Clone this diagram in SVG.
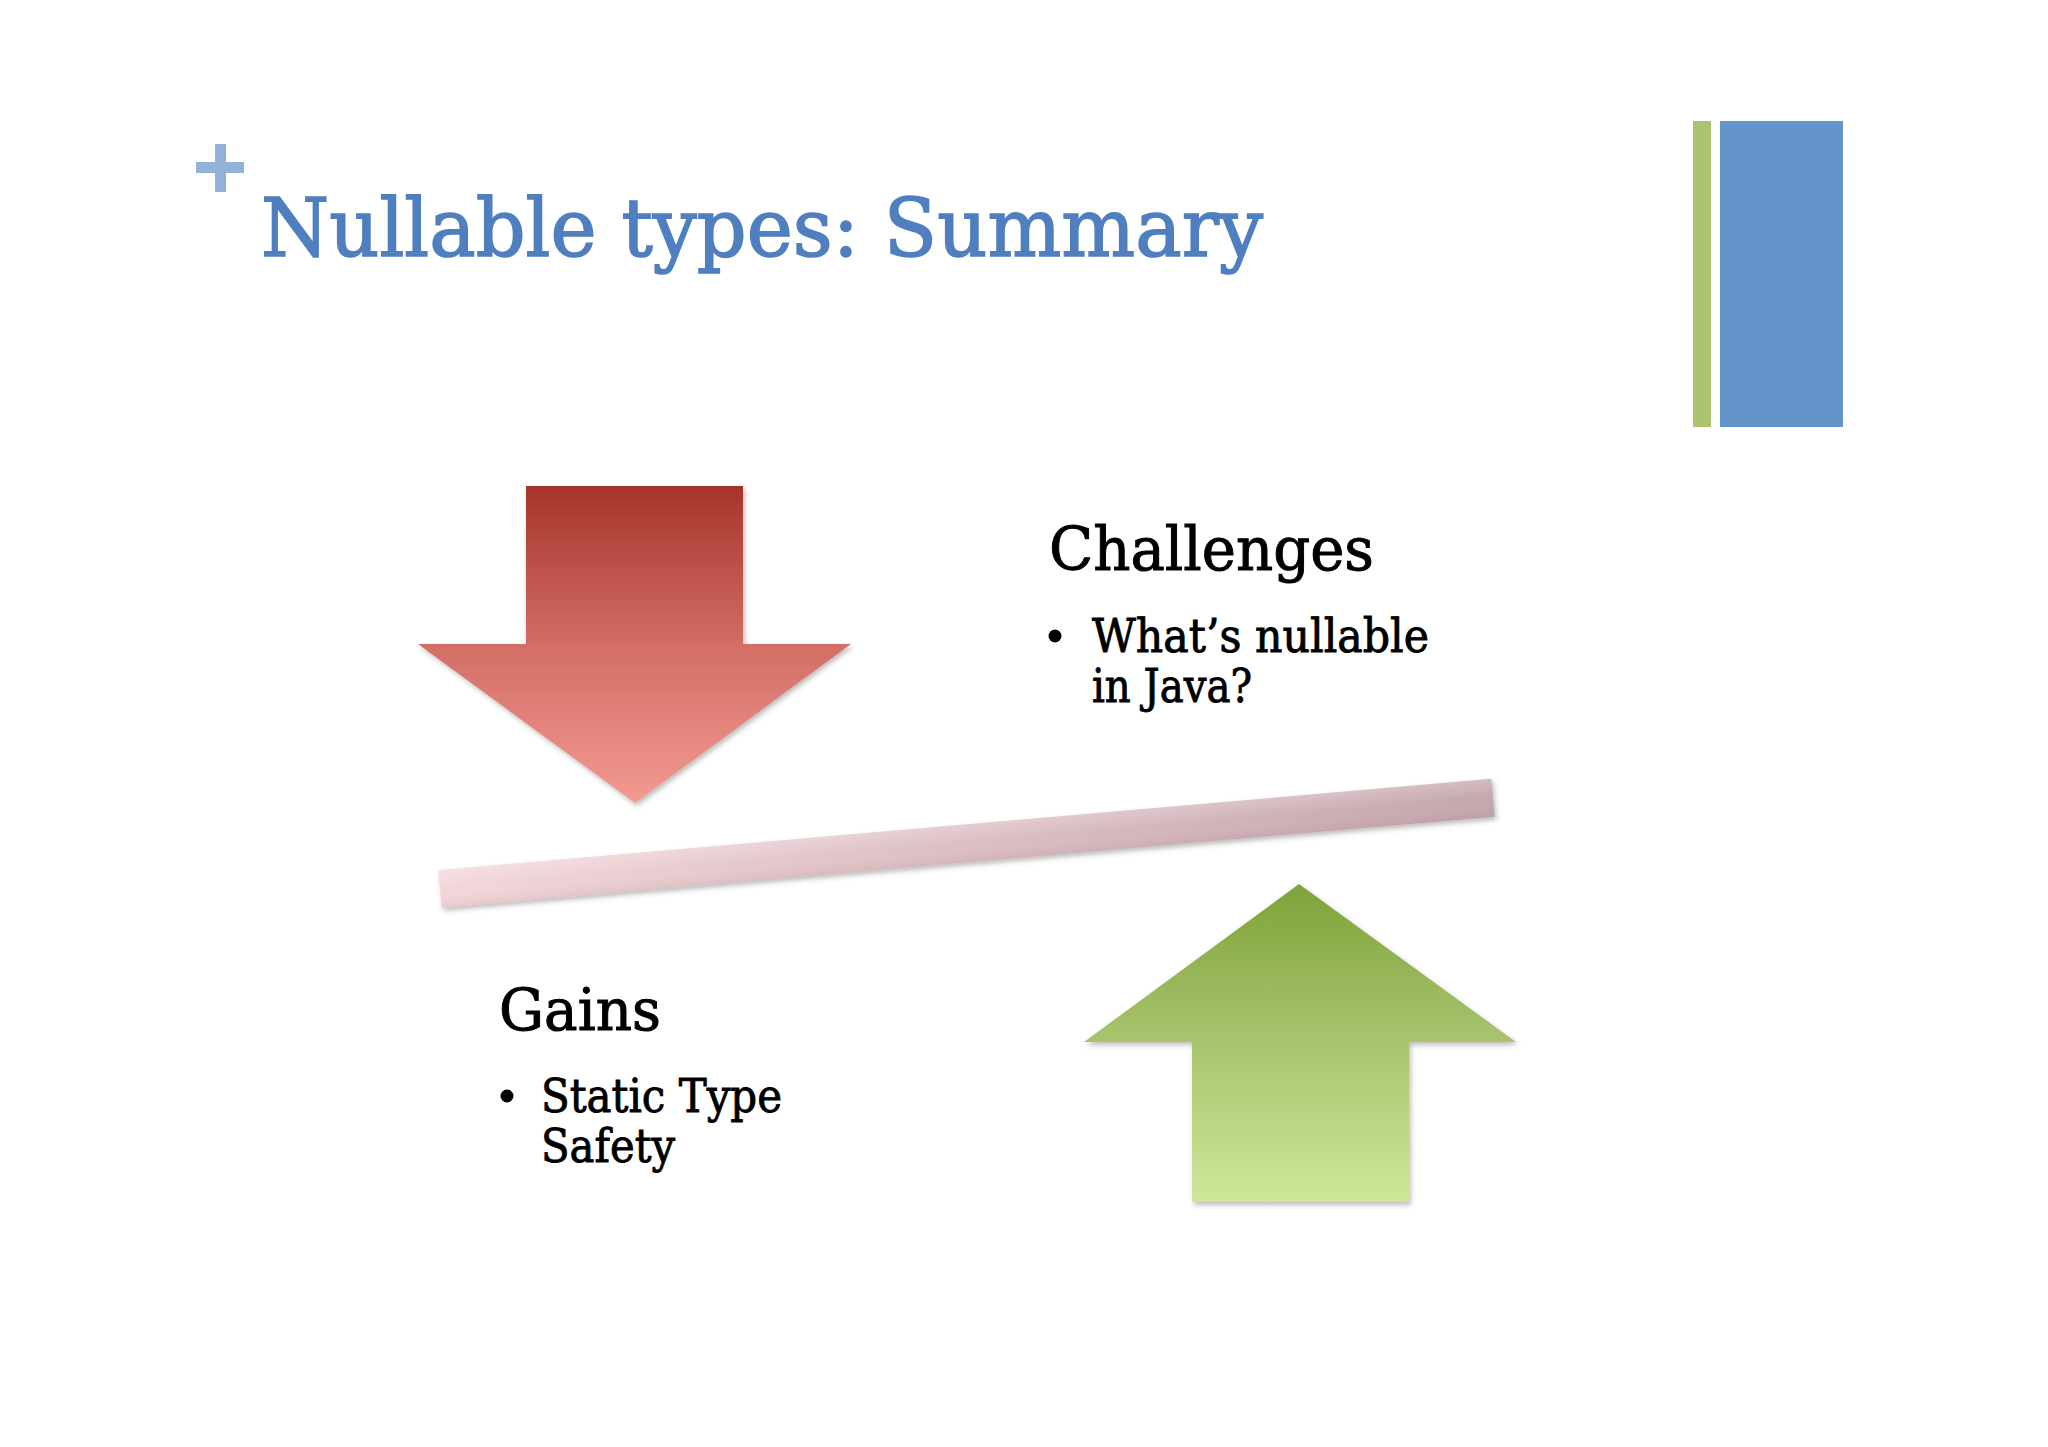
<svg xmlns="http://www.w3.org/2000/svg" width="2048" height="1447" viewBox="0 0 2048 1447">
  <defs>
    <style>
      .title { font-family: "DejaVu Serif", "Liberation Serif", serif; fill: #4f7fbf; stroke: #4f7fbf; stroke-width: 1.6; }
      .head { font-family: "DejaVu Serif", "Liberation Serif", serif; fill: #000000; stroke: #000000; stroke-width: 1; }
      .body { font-family: "DejaVu Serif", "Liberation Serif", serif; fill: #000000; stroke: #000000; stroke-width: 0.9; }
    </style>
    <linearGradient id="redGrad" x1="0" y1="486" x2="0" y2="803" gradientUnits="userSpaceOnUse">
      <stop offset="0" stop-color="#a5342b"/>
      <stop offset="0.5" stop-color="#d36d65"/>
      <stop offset="1" stop-color="#f29a92"/>
    </linearGradient>
    <linearGradient id="greenGrad" x1="0" y1="884" x2="0" y2="1202" gradientUnits="userSpaceOnUse">
      <stop offset="0" stop-color="#7ea338"/>
      <stop offset="0.5" stop-color="#a9c46f"/>
      <stop offset="1" stop-color="#cfe79a"/>
    </linearGradient>
    <linearGradient id="barGrad" x1="0" y1="0" x2="1" y2="0">
      <stop offset="0" stop-color="#f3d6d9"/>
      <stop offset="1" stop-color="#c4a6ac"/>
    </linearGradient>
    <linearGradient id="barShade" x1="0" y1="0" x2="0" y2="1">
      <stop offset="0" stop-color="#ffffff" stop-opacity="0.25"/>
      <stop offset="0.5" stop-color="#ffffff" stop-opacity="0"/>
      <stop offset="1" stop-color="#8a6a70" stop-opacity="0.12"/>
    </linearGradient>
    <filter id="shadow" x="-10%" y="-10%" width="120%" height="130%">
      <feDropShadow dx="2" dy="3" stdDeviation="2.5" flood-color="#404040" flood-opacity="0.35"/>
    </filter>
  </defs>

  <rect x="0" y="0" width="2048" height="1447" fill="#ffffff"/>

  <g id="plus">
    <rect x="196" y="162" width="48" height="11" fill="#93b2d9"/>
    <rect x="215" y="144" width="11" height="48" fill="#93b2d9"/>
  </g>

  <g id="title">
    <text class="title" x="261" y="256" font-size="81" textLength="1002" lengthAdjust="spacingAndGlyphs">Nullable types: Summary</text>
  </g>

  <g id="accent-bars">
    <rect x="1693" y="121" width="18" height="306" fill="#acc26e"/>
    <rect x="1720" y="121" width="123" height="306" fill="#6394ca"/>
  </g>

  <g id="red-arrow" filter="url(#shadow)">
    <polygon points="526,486 743,486 743,644 851,644 635,803 418,644 526,644" fill="url(#redGrad)"/>
  </g>

  <g id="balance-bar" filter="url(#shadow)">
    <g transform="translate(966.5,843.3) rotate(-4.95)">
      <rect x="-528.5" y="-19" width="1057" height="38" fill="url(#barGrad)"/>
      <rect x="-528.5" y="-19" width="1057" height="38" fill="url(#barShade)"/>
    </g>
  </g>

  <g id="green-arrow" filter="url(#shadow)">
    <polygon points="1299,884 1516,1042 1409,1042 1409,1202 1192,1202 1192,1042 1084,1042" fill="url(#greenGrad)"/>
  </g>

  <g id="challenges">
    <text class="head" x="1049" y="570" font-size="59" textLength="325" lengthAdjust="spacingAndGlyphs">Challenges</text>
    <circle cx="1055" cy="636" r="6.5" fill="#000000"/>
    <text class="body" x="1092" y="652" font-size="46" textLength="337" lengthAdjust="spacingAndGlyphs">What’s nullable</text>
    <text class="body" x="1092" y="702" font-size="46" textLength="160" lengthAdjust="spacingAndGlyphs">in Java?</text>
  </g>

  <g id="gains">
    <text class="head" x="499" y="1030" font-size="57" textLength="162" lengthAdjust="spacingAndGlyphs">Gains</text>
    <circle cx="507" cy="1096" r="6.5" fill="#000000"/>
    <text class="body" x="541" y="1112" font-size="46" textLength="241" lengthAdjust="spacingAndGlyphs">Static Type</text>
    <text class="body" x="541" y="1162" font-size="46" textLength="134" lengthAdjust="spacingAndGlyphs">Safety</text>
  </g>
</svg>
